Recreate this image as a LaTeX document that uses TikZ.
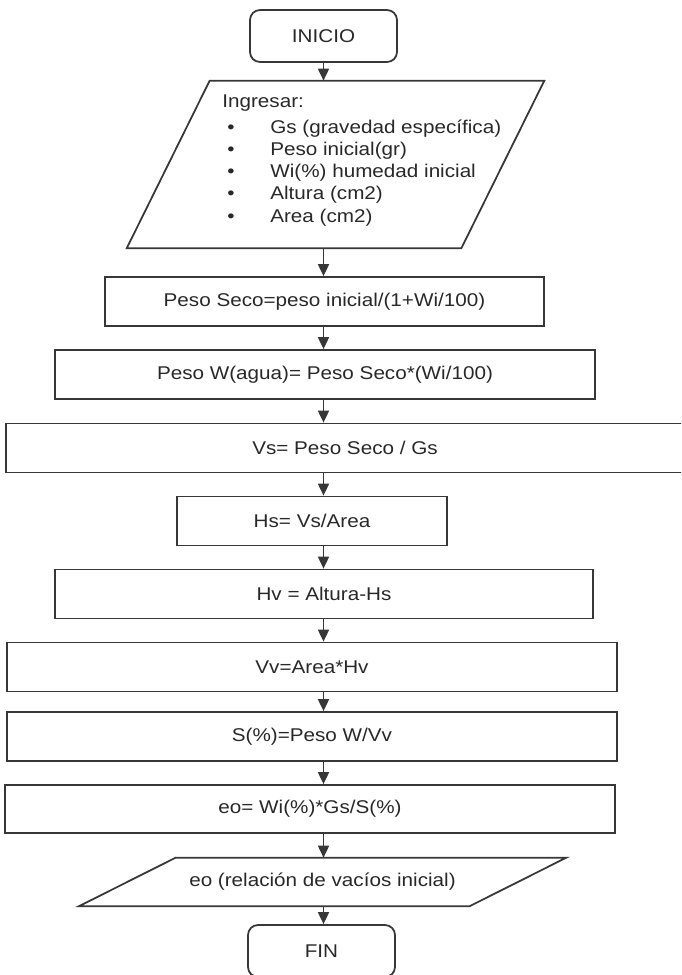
\documentclass[tikz,border=0pt]{standalone}
\usepackage{fontspec}
\setmainfont{Liberation Sans}[FakeStretch=1.12]
\usepackage{tikz}
\usetikzlibrary{positioning,arrows.meta}
\definecolor{linea}{RGB}{55,55,55}
\definecolor{texto}{RGB}{40,40,40}
\newcommand{\dato}[1]{\makebox[0.96cm][l]{\hspace{0.1cm}\textbullet}#1}

\begin{document}
\begin{tikzpicture}
[
  x=0.02cm, y=-0.02cm,
  font=\fontsize{10.5pt}{12.6pt}\selectfont,
  proc/.style={rectangle,draw=linea,line width=1pt,text=texto,minimum height=0.98cm,inner sep=0pt},
  term/.style={proc,rounded corners=0.2cm,minimum width=2.94cm,minimum height=1.04cm},
  hueco/.style={rectangle,inner sep=0pt},
  flecha/.style={draw=linea,line width=1pt,-{Triangle[length=0.24cm,width=0.22cm]}},
]
\useasboundingbox (0,0) rectangle (681,975);
\clip (0,0) rectangle (681,975);

\node[term] (ini) at (323.5,36) {INICIO};

% entrada de datos
\node[hueco,minimum width=6.68cm,minimum height=3.34cm] (datos) at (335.5,164.5) {};
\draw[draw=linea,line width=1pt] ([xshift=0.83cm]datos.north west) -- ([xshift=0.83cm]datos.north east)
  -- ([xshift=-0.83cm]datos.south east) -- ([xshift=-0.83cm]datos.south west) -- cycle;
\node[hueco,anchor=north west,align=left,text=texto] (lista) at (222,94) {Ingresar:\\[2.5pt]
  \dato{Gs (gravedad específica)}\\
  \dato{Peso inicial(gr)}\\
  \dato{Wi(\%) humedad inicial}\\
  \dato{Altura (cm2)}\\
  \dato{Area (cm2)}};

\node[proc,minimum width=8.78cm] (ps) at (324.5,301.5) {Peso Seco=peso inicial/(1+Wi/100)};
\node[proc,minimum width=10.8cm] (pw) at (325,374.5) {Peso W(agua)= Peso Seco*(Wi/100)};
\node[proc,minimum width=13.56cm] (vs) at (345,448) {Vs= Peso Seco / Gs};
\node[proc,minimum width=5.4cm] (hs) at (312,521) {Hs= Vs/Area};
\node[proc,minimum width=10.76cm] (hv) at (324,594) {Hv = Altura-Hs};
\node[proc,minimum width=12.2cm] (vv) at (312,667) {Vv=Area*Hv};
\node[proc,minimum width=12.2cm] (sat) at (312,736.5) {S(\%)=Peso W/Vv};
\node[proc,minimum width=12.2cm,minimum height=0.96cm] (eo) at (310,809) {eo= Wi(\%)*Gs/S(\%)};

% salida
\node[hueco,minimum width=7.8cm,minimum height=0.96cm,text=texto] (res) at (322.5,882) {eo (relación de vacíos inicial)};
\draw[draw=linea,line width=1pt] ([xshift=0.97cm]res.north west) -- ([xshift=0.97cm]res.north east)
  -- ([xshift=-0.97cm]res.south east) -- ([xshift=-0.97cm]res.south west) -- cycle;

\node[term] (fin) at (321.5,951) {FIN};

\draw[flecha] (ini.south) -- (datos.north -| ini.south);
\draw[flecha] (datos.south -| ini) -- (ps.north -| ini);
\draw[flecha] (ps.south -| ini) -- (pw.north -| ini);
\draw[flecha] (pw.south -| ini) -- (vs.north -| ini);
\draw[flecha] (vs.south -| ini) -- (hs.north -| ini);
\draw[flecha] (hs.south -| ini) -- (hv.north -| ini);
\draw[flecha] (hv.south -| ini) -- (vv.north -| ini);
\draw[flecha] (vv.south -| ini) -- (sat.north -| ini);
\draw[flecha] (sat.south -| ini) -- (eo.north -| ini);
\draw[flecha] (eo.south -| ini) -- (res.north -| ini);
\draw[flecha] (res.south -| ini) -- (fin.north -| ini);
\end{tikzpicture}
\end{document}
